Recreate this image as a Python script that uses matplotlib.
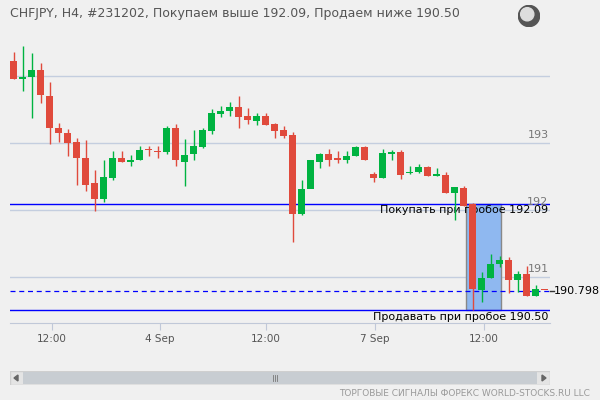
import numpy as np
import matplotlib.pyplot as plt
from matplotlib.patches import Rectangle, Circle, Polygon

# H4 candles
o=[194.22,193.95,193.99,194.09,193.70,193.22,193.15,193.01,192.78,192.40,
   192.17,192.47,192.78,192.72,192.74,192.91,192.88,192.86,193.22,192.72,
   192.83,192.94,193.18,193.44,193.47,193.54,193.40,193.33,193.40,193.28,
   193.19,193.12,191.94,192.32,192.71,192.84,192.78,192.75,192.80,192.94,
   192.54,192.48,192.84,192.87,192.55,192.56,192.64,192.51,192.52,192.25,
   192.33,192.09,190.81,190.98,191.20,191.25,190.95,191.04,190.72,190.80]
c=[193.96,193.99,194.09,193.71,193.23,193.15,193.00,192.77,192.38,192.17,
   192.49,192.78,192.72,192.75,192.90,192.89,192.86,193.22,192.74,192.82,
   192.96,193.19,193.45,193.48,193.54,193.39,193.35,193.40,193.27,193.18,
   193.11,191.94,192.32,192.74,192.84,192.75,192.75,192.81,192.94,192.75,
   192.48,192.85,192.87,192.52,192.57,192.64,192.50,192.54,192.25,192.34,
   192.06,190.82,190.99,191.20,191.25,190.95,191.04,190.72,190.82,190.80]
h=[194.36,194.45,194.34,194.19,193.91,193.30,193.21,193.07,193.04,192.59,
   192.75,192.88,192.88,192.82,192.96,192.96,192.96,193.25,193.28,193.06,
   193.19,193.22,193.51,193.55,193.61,193.70,193.52,193.45,193.45,193.30,
   193.25,193.16,192.45,192.75,192.85,192.91,192.88,192.88,192.95,192.95,
   192.57,192.91,192.90,192.90,192.65,192.69,192.65,192.62,192.57,192.35,
   192.36,192.10,191.07,191.34,191.32,191.30,191.09,191.17,190.88,190.80]
l=[193.95,193.78,193.38,193.59,192.98,193.02,192.80,192.38,192.29,191.99,
   192.12,192.45,192.72,192.65,192.74,192.80,192.77,192.84,192.65,192.36,
   192.75,192.93,193.14,193.39,193.41,193.23,193.29,193.27,193.27,193.08,
   193.08,191.52,191.93,192.34,192.63,192.66,192.70,192.70,192.80,192.75,
   192.42,192.48,192.75,192.46,192.53,192.55,192.50,192.51,192.25,191.85,
   192.06,190.51,190.63,190.98,191.15,190.76,190.77,190.72,190.71,190.80]
buy=192.09; sell=190.50; last=190.798
box=(50.2,54.1)
tick_pos=[4.2,16.2,28,40.1,52.2]
tick_lab=["12:00","4 Sep","12:00","7 Sep","12:00"]
grid=[191,192,193,194]

RED="#e04a3c";GRN="#00b341";BG="#f0f0f0"
fig=plt.figure(figsize=(6,4),dpi=100,facecolor=BG)
ax=fig.add_axes([10/600,77/400,540/600,298/400],facecolor=BG)
ax.set_xlim(-0.44,59.56);ax.set_ylim(190.313,194.761)
for s in ["top","left","right"]: ax.spines[s].set_visible(False)
ax.spines["bottom"].set_color("#c0c8d8")
ax.set_yticks([])
ax.set_xticks(tick_pos,tick_lab,fontsize=7.5,color="#555555")
ax.tick_params(axis="x",length=5,color="#c0c8d8",pad=3)
for g in grid:
    ax.axhline(g,color="#c4cedf",lw=1,zorder=0)
    if g<194: ax.text(59.4,g+0.04,str(g),ha="right",va="bottom",fontsize=8,color="#777777")
ax.add_patch(Rectangle((box[0],sell),box[1]-box[0],buy-sell,facecolor="#8fb8f0",edgecolor="#888888",lw=1,zorder=1))
ax.axhline(buy,color="#0000ff",lw=1,zorder=2)
ax.axhline(sell,color="#0000ff",lw=1,zorder=2)
ax.axhline(last,color="#0000ff",lw=0.9,ls=(0,(4,3)),zorder=2)
ax.text(59.4,buy-0.02,"Покупать при пробое 192.09",ha="right",va="top",fontsize=8)
ax.text(59.4,sell-0.02,"Продавать при пробое 190.50",ha="right",va="top",fontsize=8)
ax.text(60.0,last,"190.798",ha="left",va="center",fontsize=8,clip_on=False)
ax.plot([59.6,60.0],[last,last],color="#333333",lw=1,clip_on=False)
for i in range(len(o)):
    col=GRN if c[i]>o[i] else RED
    ax.vlines(i,l[i],h[i],color=col,lw=1,zorder=3)
    b=max(abs(c[i]-o[i]),0.015)
    ax.add_patch(Rectangle((i-0.39,min(o[i],c[i])),0.78,b,facecolor=col,edgecolor="none",zorder=4))

fig.text(10/600,1-13/400,"CHFJPY, H4, #231202, Покупаем выше 192.09, Продаем ниже 190.50",fontsize=9,color="#555555",va="center")
# globe icon
gx=fig.add_axes([518/600,1-27/400,22/600,22/400]);gx.axis("off");gx.set_xlim(0,1);gx.set_ylim(0,1)
gx.add_patch(Circle((0.5,0.5),0.48,color="#555555"))
gx.add_patch(Circle((0.42,0.58),0.3,color="#dddddd"))
# scrollbar
sb=fig.add_axes([10/600,15/400,540/600,14/400]);sb.axis("off");sb.set_xlim(0,540);sb.set_ylim(0,14)
sb.add_patch(Rectangle((0,0),540,14,facecolor="#e4e4e4",edgecolor="#cfcfcf"))
sb.add_patch(Rectangle((13,1),514,12,facecolor="#c8cdd2",edgecolor="none"))
sb.add_patch(Polygon([[8,4],[8,10],[4,7]],color="#666666"))
sb.add_patch(Polygon([[532,4],[532,10],[536,7]],color="#666666"))
for dx in (-2,0,2): sb.plot([265+dx,265+dx],[4,10],color="#777777",lw=0.6)
fig.text(590/600,6/400,"ТОРГОВЫЕ СИГНАЛЫ ФОРЕКС WORLD-STOCKS.RU LLC",fontsize=6.5,color="#999999",ha="right",va="center")
fig.savefig("out.png",dpi=100,facecolor=BG)
